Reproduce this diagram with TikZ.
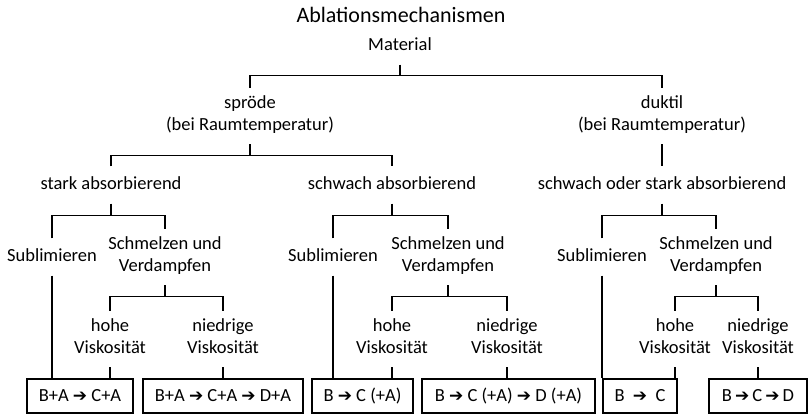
\documentclass[tikz,border=0pt]{standalone}
\usepackage{fontspec}
\setmainfont{Carlito}
\newfontfamily\symfont{DejaVu Sans}
\newcommand{\pfeil}{{\symfont\fontsize{17}{17}\selectfont ➔}}
\tikzset{
  lbl/.style={align=center, inner xsep=2pt, inner ysep=7pt,
    font=\fontsize{18.5}{22}\selectfont,
    execute at begin node=\strut, execute at end node=\strut},
  res/.style={draw, minimum height=34pt, inner sep=0pt,
    font=\fontsize{18.5}{22}\selectfont}
}
\begin{document}
\begin{tikzpicture}[x=1pt,y=-1pt,line width=1.3pt]
        \useasboundingbox (0,0) rectangle (808,415);
        \path (401,15) node[font=\fontsize{22}{26}\selectfont](title){Ablationsmechanismen};
        \path (400,46) node[lbl](mat){Material};
        \path (250,116) node[lbl](spr){spröde\\(bei Raumtemperatur)}
              (662,116) node[lbl](duk){duktil\\(bei Raumtemperatur)};
        \path (111,185) node[lbl](stark){stark absorbierend}
              (392,185) node[lbl](schw){schwach absorbierend}
              (662,185) node[lbl](beide){schwach oder stark absorbierend};
        \path (52,257) node[lbl](sub1){Sublimieren} (165,257) node[lbl](sv1){Schmelzen und\\Verdampfen};
        \path (333,257) node[lbl](sub2){Sublimieren} (448,257) node[lbl](sv2){Schmelzen und\\Verdampfen};
        \path (602,257) node[lbl](sub3){Sublimieren} (716,257) node[lbl](sv3){Schmelzen und\\Verdampfen};
        \path (110,339) node[lbl](hv1){hohe\\Viskosität} (223,339) node[lbl](nv1){niedrige\\Viskosität};
        \path (392,339) node[lbl](hv2){hohe\\Viskosität} (507,339) node[lbl](nv2){niedrige\\Viskosität};
        \path (675,339) node[lbl](hv3){hohe\\Viskosität} (758,339) node[lbl](nv3){niedrige\\Viskosität};
        % Ergebnisse
        \path (80,396) node[res,minimum width=106pt](r1){B+A \pfeil\ C+A};
        \path (223,396) node[res,minimum width=160pt](r2){B+A \pfeil\ C+A \pfeil\ D+A};
        \path (362.5,396) node[res,minimum width=101pt](r3){B \pfeil\ C (+A)};
        \path (508.5,396) node[res,minimum width=173pt](r4){B \pfeil\ C (+A) \pfeil\ D (+A)};
        \path (640,396) node[res,minimum width=74pt](r5){B \ \pfeil\ \ C};
        \path (758,396) node[res,minimum width=98pt](r6){B\,\pfeil\,C\,\pfeil\,D};

        \draw (mat.south) -- ++(0,11) coordinate (m1);
        \draw (spr.north) |- (m1) -| (duk.north);
        \draw (spr.south) -- ++(0,11) coordinate (m2);
        \draw (stark.north) |- (m2) -| (schw.north);
        \draw (duk.south) -- (beide.north);

        \draw (stark.south) -- ++(0,12) coordinate (m3);
        \draw (sub1.north) |- (m3) -| (sv1.north);
        \draw (schw.south) -- ++(0,12) coordinate (m4);
        \draw (sub2.north) |- (m4) -| (sv2.north);
        \draw (beide.south) -- ++(0,12) coordinate (m5);
        \draw (sub3.north) |- (m5) -| (sv3.north);

        \draw (sv1.south) -- ++(0,11) coordinate (m6);
        \draw (hv1.north) |- (m6) -| (nv1.north);
        \draw (sv2.south) -- ++(0,11) coordinate (m7);
        \draw (hv2.north) |- (m7) -| (nv2.north);
        \draw (sv3.south) -- ++(0,11) coordinate (m8);
        \draw (hv3.north) |- (m8) -| (nv3.north);

        \draw (sub1.south) -- (sub1.south |- r1.north);
        \draw (hv1.south) -- (hv1.south |- r1.north);
        \draw (nv1.south) -- (nv1.south |- r2.north);
        \draw (sub2.south) -- (sub2.south |- r3.north);
        \draw (hv2.south) -- (hv2.south |- r3.north);
        \draw (nv2.south) -- (nv2.south |- r4.north);
        \draw (sub3.south) -- (sub3.south |- r5.north);
        \draw (hv3.south) -- (hv3.south |- r5.north);
        \draw (nv3.south) -- (nv3.south |- r6.north);


    \end{tikzpicture}
\end{document}
